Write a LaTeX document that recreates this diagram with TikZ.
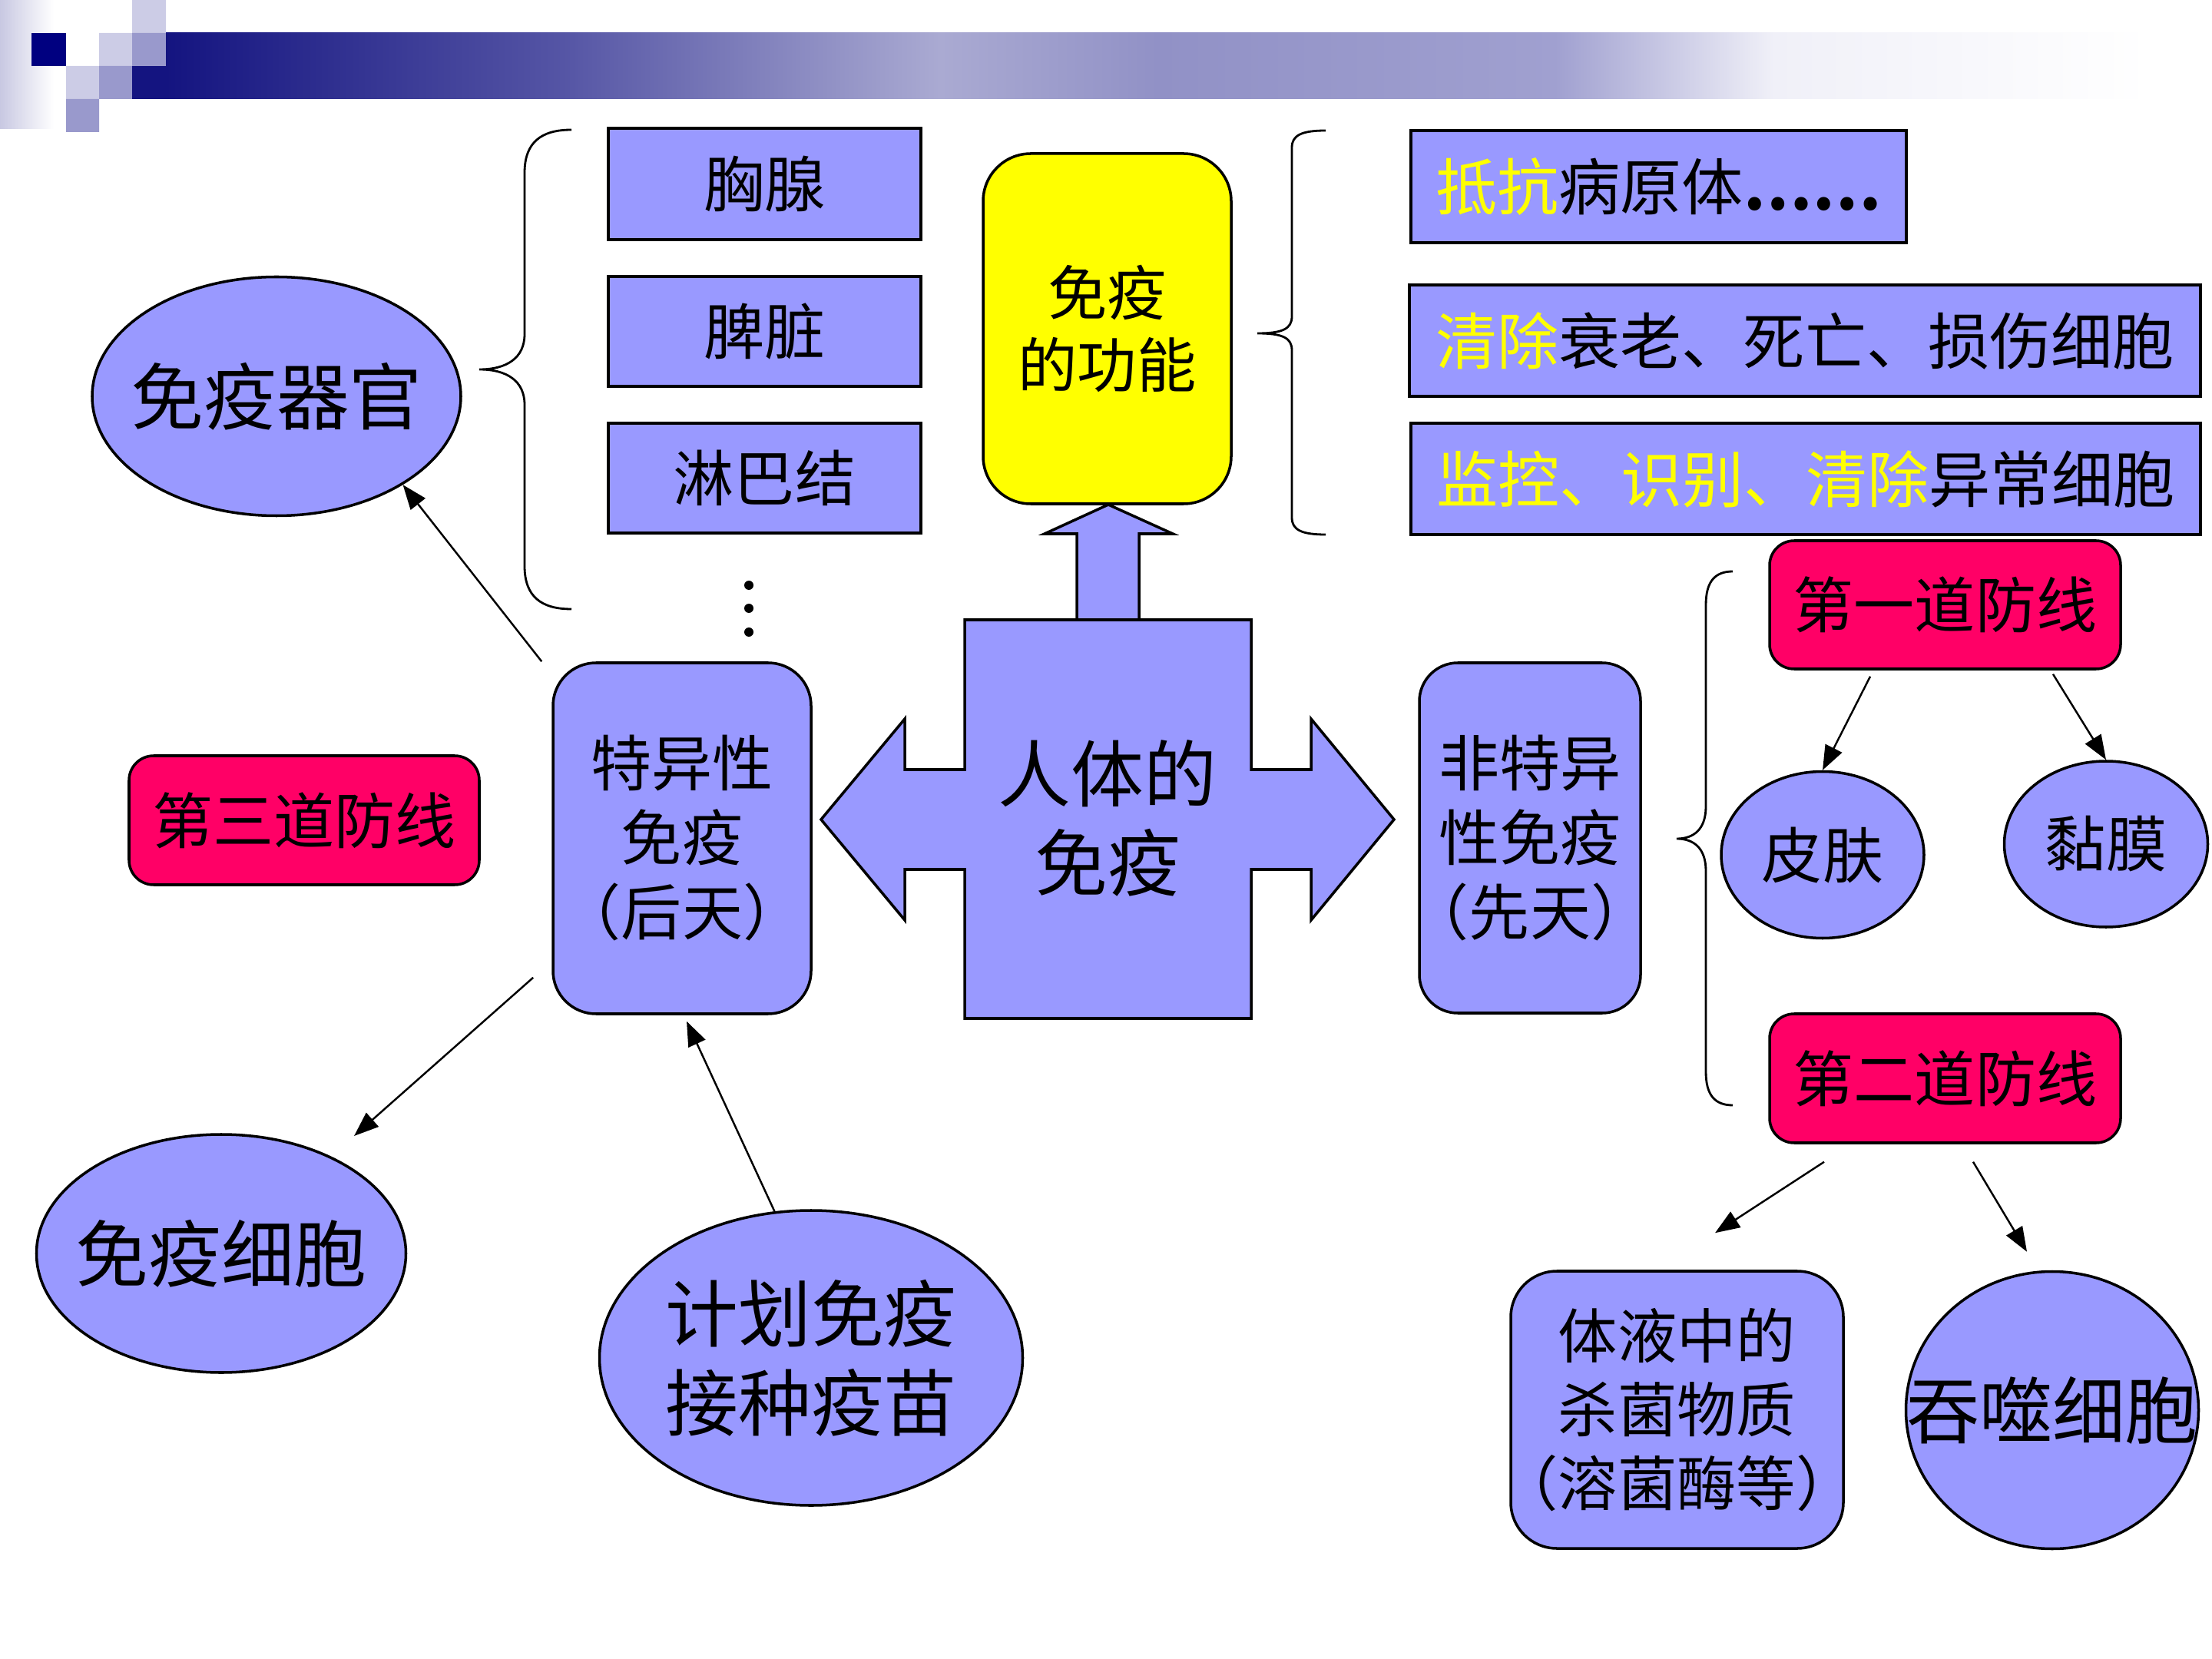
\documentclass[tikz,border=0pt]{standalone}
\usepackage{fontspec}
\setmainfont{Noto Sans CJK SC}
\usetikzlibrary{shapes.geometric,arrows.meta}
\definecolor{lav}{RGB}{153,153,255}
\definecolor{rose}{RGB}{255,0,102}
\definecolor{yel}{RGB}{255,255,0}
\definecolor{navy}{RGB}{0,0,128}
\definecolor{sqlight}{RGB}{204,204,230}
\definecolor{sqmid}{RGB}{153,153,204}
\definecolor{stripc}{RGB}{200,200,226}
\definecolor{hb0}{RGB}{20,20,128}
\definecolor{hb1}{RGB}{85,85,165}
\definecolor{hb2}{RGB}{170,170,210}
\definecolor{hb3}{RGB}{145,145,198}
\definecolor{hb4}{RGB}{160,160,208}
\definecolor{hb5}{RGB}{240,240,248}
\pgfdeclarehorizontalshading{headbar}{100bp}{color(0bp)=(hb0); color(25bp)=(hb0);
  color(35bp)=(hb1); color(44.5bp)=(hb2); color(50bp)=(hb3); color(60bp)=(hb4);
  color(65.5bp)=(hb5); color(75bp)=(white); color(100bp)=(white)}
\newcommand{\zerow}[1]{\makebox[0pt]{#1}}
\tikzset{
  box/.style={draw, line width=1pt, fill=lav, inner sep=0pt, align=center,
    font=\fontsize{22.5}{27.6}\selectfont},
  rbox/.style={box, rounded corners=5.6mm},
  redbox/.style={box, fill=rose, rounded corners=3.2mm},
  fbox/.style={box, minimum height=1.45cm, font=\fontsize{22.8}{27}\selectfont},
  oval/.style={ellipse, draw, line width=1pt, fill=lav, inner sep=0pt, align=center,
    font=\fontsize{27}{33}\selectfont},
  arr/.style={-{Triangle[length=3.2mm,width=2.4mm]}, line width=0.7pt},
  curly/.style={line width=0.8pt}
}
\begin{document}
\begin{tikzpicture}[x=1cm,y=-1cm]
\useasboundingbox (0,0) rectangle (28.8,21.6);
% header
\shade[left color=stripc, right color=white] (0,0) rectangle (0.70,1.68);
\fill[navy] (0.41,0.43) rectangle (0.86,0.86);
\fill[sqlight] (0.86,0.86) rectangle (1.29,1.29) (1.29,0.43) rectangle (1.72,0.86)
  (1.72,0) rectangle (2.16,0.43);
\fill[sqmid] (0.86,1.29) rectangle (1.29,1.72) (1.29,0.86) rectangle (1.72,1.29)
  (1.72,0.43) rectangle (2.16,0.86);
\fill[hb0] (1.72,0.86) rectangle (2.17,1.29);
\shade[shading=headbar] (2.16,0.43) rectangle (28.0,1.29);

% left part
\node[oval, minimum width=4.80cm, minimum height=3.11cm] (organ) at (3.60,5.16) {\zerow{免疫器官}};
\draw[curly] (7.44,1.69) .. controls (7.05,1.69) and (6.83,1.85) .. (6.83,2.25) -- (6.83,4.35)
  .. controls (6.83,4.66) and (6.60,4.81) .. (6.24,4.81)
  .. controls (6.60,4.81) and (6.83,4.96) .. (6.83,5.27) -- (6.83,7.37)
  .. controls (6.83,7.77) and (7.05,7.93) .. (7.44,7.93);
\node[box, minimum width=4.07cm, minimum height=1.45cm] (thymus) at (9.955,2.395) {胸腺};
\node[box, minimum width=4.07cm, minimum height=1.43cm] (spleen) at (9.955,4.315) {脾脏};
\node[box, minimum width=4.07cm, minimum height=1.43cm] (lymph) at (9.955,6.225) {淋巴结};
\foreach \y in {7.62,7.92,8.23} \fill (9.75,\y) circle (0.06);

\node[rbox, minimum width=3.36cm, minimum height=4.57cm] (spec) at (8.88,10.915)
  {\zerow{特异性}\\\zerow{免疫}\\\zerow{（后天）}};
\node[redbox, minimum width=4.56cm, minimum height=1.68cm] (third) at (3.96,10.68) {第三道防线};
\node[oval, minimum width=4.81cm, minimum height=3.10cm] (cell) at (2.88,16.32) {\zerow{免疫细胞}};
\node[oval, minimum width=5.51cm, minimum height=3.84cm] (plan) at (10.56,17.68)
  {\zerow{计划免疫}\\\zerow{接种疫苗}};

% centre
\node[box, fill=yel, rounded corners=6.2mm, minimum width=3.23cm, minimum height=4.56cm,
  font=\fontsize{22}{26.7}\selectfont] (func) at (14.415,4.28) {免疫\\的功能};
\draw[line width=1pt, fill=lav] (12.56,8.07) -- (16.29,8.07) -- (16.29,10.02) -- (17.07,10.02)
  -- (17.07,9.36) -- (18.15,10.67) -- (17.07,11.98) -- (17.07,11.32) -- (16.29,11.32)
  -- (16.29,13.26) -- (12.56,13.26) -- (12.56,11.32) -- (11.78,11.32) -- (11.78,11.98)
  -- (10.69,10.67) -- (11.78,9.36) -- (11.78,10.02) -- (12.56,10.02) -- cycle;
\draw[line width=1pt, fill=lav] (14.02,8.07) -- (14.02,6.95) -- (13.60,6.95) -- (14.43,6.57)
  -- (15.27,6.95) -- (14.83,6.95) -- (14.83,8.07) -- cycle;
\node[font=\fontsize{27}{33}\selectfont, align=center] (body) at (14.42,10.65) {人体的\\免疫};

% right part
\draw[curly] (17.26,1.70) .. controls (16.95,1.70) and (16.82,1.76) .. (16.82,1.92) -- (16.82,4.12)
  .. controls (16.82,4.28) and (16.70,4.34) .. (16.37,4.34)
  .. controls (16.70,4.34) and (16.82,4.40) .. (16.82,4.56) -- (16.82,6.74)
  .. controls (16.82,6.90) and (16.95,6.96) .. (17.26,6.96);
\node[fbox, minimum width=6.45cm, minimum height=1.46cm] (resist) at (21.595,2.43)
  {\textcolor{yel}{抵抗}病原体\textbf{……}};
\node[fbox, minimum width=10.30cm] (clear) at (23.50,4.435)
  {\textcolor{yel}{清除}衰老、死亡、损伤细胞};
\node[fbox, minimum width=10.28cm] (watch) at (23.51,6.235)
  {\textcolor{yel}{监控、识别、清除}异常细胞};

\node[rbox, rounded corners=5mm, minimum width=2.88cm, minimum height=4.56cm] (nonspec) at (19.92,10.91)
  {\zerow{非特异}\\\zerow{性免疫}\\\zerow{（先天）}};
\draw[curly] (22.56,7.44) .. controls (22.32,7.44) and (22.21,7.58) .. (22.21,7.88) -- (22.21,10.50)
  .. controls (22.21,10.80) and (22.05,10.92) .. (21.83,10.92)
  .. controls (22.05,10.92) and (22.21,11.04) .. (22.21,11.34) -- (22.21,13.95)
  .. controls (22.21,14.25) and (22.32,14.39) .. (22.56,14.39);
\node[redbox, minimum width=4.57cm, minimum height=1.67cm] (first) at (25.325,7.875) {第一道防线};
\node[oval, minimum width=2.64cm, minimum height=2.17cm, font=\fontsize{22.5}{27}\selectfont]
  (skin) at (23.73,11.13) {\zerow{皮肤}};
\node[oval, minimum width=2.65cm, minimum height=2.16cm, font=\fontsize{22.5}{27}\selectfont]
  (mucosa) at (27.42,10.99) {\zerow{黏膜}};
\node[redbox, minimum width=4.57cm, minimum height=1.68cm] (second) at (25.325,14.04) {第二道防线};
\node[rbox, rounded corners=6mm, minimum width=4.33cm, minimum height=3.61cm,
  font=\fontsize{22}{27.3}\selectfont] (humoral) at (21.835,18.355)
  {\zerow{体液中的}\\\zerow{杀菌物质}\\\zerow{（溶菌酶等）}};
\node[oval, minimum width=3.81cm, minimum height=3.61cm] (phago) at (26.72,18.36) {\zerow{吞噬细胞}};

% arrows
\draw[arr] ([xshift=-1.3mm]spec.north west) -- (organ.-35);
\draw[arr, shorten >=4mm] ([xshift=-2.4mm,yshift=4.9mm]spec.south west) -- (cell);
\draw[arr] (plan.104) -- ([xshift=0.6mm,yshift=-0.8mm]spec.south);
\draw[arr] ([xshift=-9.75mm,yshift=-0.8mm]first.south) -- (skin.north);
\draw[arr] ([xshift=14.05mm,yshift=-0.5mm]first.south) -- (mucosa.north);
\draw[arr] ([xshift=-15.75mm,yshift=-2.3mm]second.south) -- ([xshift=4.95mm,yshift=4.8mm]humoral.north);
\draw[arr] ([xshift=3.65mm,yshift=-2.3mm]second.south) -- ([xshift=-3.3mm,yshift=2.4mm]phago.north);
\end{tikzpicture}
\end{document}
